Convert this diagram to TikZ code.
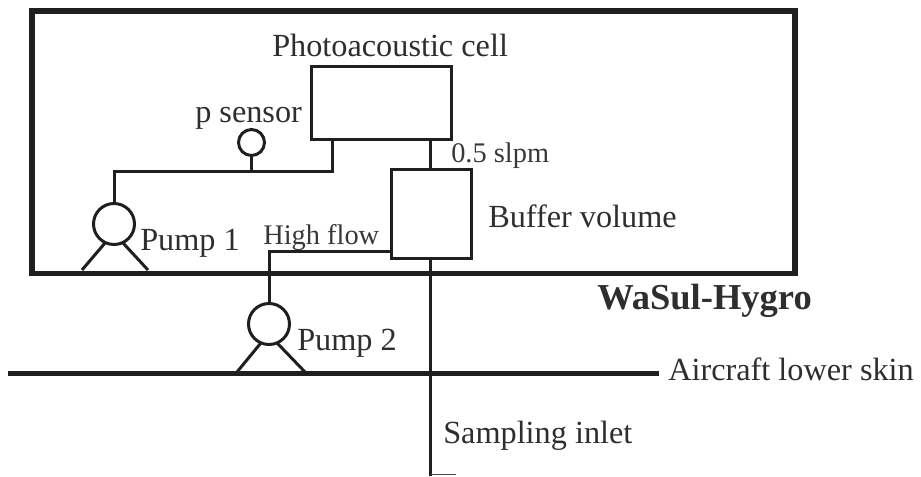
\documentclass[tikz,border=0pt]{standalone}
\usepackage{fontspec}
\setmainfont{Liberation Serif}
\usetikzlibrary{positioning}
\tikzset{pipe/.style={line width=2.25pt,draw=black!88},
    boxy/.style={draw=black!88,line width=2.25pt,rectangle,inner sep=0,outer sep=0},
    pumpy/.style={draw=black!88,line width=2.25pt,circle,inner sep=0,outer sep=0,minimum size=30.75pt},
    sensory/.style={draw=black!88,line width=2.25pt,circle,inner sep=0,outer sep=0,minimum size=19.5pt},
    labeltext/.style={font=\fontsize{24.2}{28}\selectfont,text=black!82,inner sep=0,anchor=base west},
    smalltext/.style={font=\fontsize{21.3}{25}\selectfont,text=black!78,inner sep=0,anchor=base west}
}
\begin{document}
\begin{tikzpicture}[x=0.75pt,y=-0.75pt]
\useasboundingbox (0,0) rectangle (921,476);

\node (housing) [draw=black!88,line width=4.25pt,rectangle,inner sep=0,outer sep=0,minimum width=572.25pt,minimum height=196.9pt,anchor=north west] at (32,11) {};

\node (cell) [boxy,minimum width=105pt,minimum height=54.75pt,anchor=north west] at (311.5,66) {};
\node (buffer) [boxy,minimum width=60pt,minimum height=66.75pt,anchor=north west] at (391.5,169) {};
\node (sensor) [sensory] at (251.5,142.5) {};
\node (pump a) [pumpy] at (114,224) {};
\node (pump b) [pumpy] at (269,324) {};

\coordinate (junction) at (332,171);
\coordinate (sensor tee) at (251.5,171);
\coordinate (cell port) at (430.5,139);
\coordinate (buffer top port) at (430.5,169);
\coordinate (buffer low port) at (430.5,258);
\coordinate (buffer side port) at (391.5,251.5);
\coordinate (pump a left) at (82,270);
\coordinate (pump a right) at (148,270);
\coordinate (pump b left) at (237,372);
\coordinate (pump b right) at (305,372);
\coordinate (skin left) at (8,373);
\coordinate (skin right) at (659,373);
\coordinate (inlet end) at (430.5,476);
\coordinate (inlet corner) at (430.5,474.5);
\coordinate (inlet stub) at (456,474.5);

\draw [pipe] (pump a.north) |- (junction) -- (junction |- cell.south);
\draw [pipe] (sensor.south) -- (sensor tee);
\draw [pipe] (cell port) -- (buffer top port);
\draw [pipe] (buffer side port) -| (pump b.north);
\draw [pipe] (buffer low port) -- (inlet end);
\draw [line width=1pt,draw=black!70] (inlet corner) -- (inlet stub);
\draw [pipe] (pump a left) -- (pump a.-115);
\draw [pipe] (pump a right) -- (pump a.-65);
\draw [pipe] (pump b left) -- (pump b.-113);
\draw [pipe] (pump b right) -- (pump b.-67);
\draw [line width=3.75pt,draw=black!88] (skin left) -- (skin right);

\node (cell text) [labeltext] at (272,56.5) {Photoacoustic cell};
\node (sensor text) [labeltext] at (195,122.5) {p sensor};
\node (flow text) [smalltext] at (451,162) {0.5 slpm};
\node (buffer text) [labeltext] at (488,227.5) {Buffer volume};
\node (high text) [smalltext] at (263,244) {High flow};
\node (pump a text) [labeltext] at (140,250) {Pump 1};
\node (pump b text) [labeltext] at (297,350) {Pump 2};
\node (hygro text) [labeltext,font=\fontsize{27.4}{32}\selectfont\bfseries] at (597,309) {WaSul-Hygro};
\node (skin text) [labeltext] at (668,380.5) {Aircraft lower skin};
\node (inlet text) [labeltext] at (443,443) {Sampling inlet};

\end{tikzpicture}
\end{document}
